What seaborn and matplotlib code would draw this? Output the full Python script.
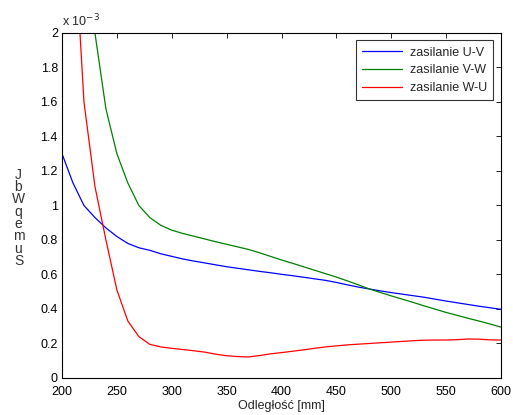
"""Field vs distance for three supply configurations (MATLAB-style figure)."""
import matplotlib
matplotlib.use("Agg")
import matplotlib.pyplot as plt
import numpy as np
import pandas as pd
import seaborn as sns

# distance [mm]
distance = list(range(200, 601, 10))

# values in units of 1e-3
uv = [1.30, 1.13, 1.00, 0.93, 0.87, 0.82, 0.78, 0.755, 0.74, 0.72,
      0.705, 0.69, 0.678, 0.667, 0.656, 0.645, 0.636, 0.627, 0.618, 0.61,
      0.601, 0.593, 0.584, 0.575, 0.566, 0.554, 0.54, 0.527, 0.516, 0.505,
      0.495, 0.486, 0.477, 0.468, 0.457, 0.446, 0.436, 0.426, 0.416, 0.407,
      0.398]
vw = [2.9, 2.55, 2.25, 2.0, 1.56, 1.30, 1.13, 1.00, 0.93, 0.885,
      0.857, 0.838, 0.822, 0.806, 0.79, 0.775, 0.76, 0.745, 0.726, 0.705,
      0.684, 0.665, 0.645, 0.625, 0.605, 0.585, 0.563, 0.54, 0.516, 0.496,
      0.476, 0.457, 0.438, 0.418, 0.399, 0.38, 0.363, 0.346, 0.33, 0.313,
      0.295]
wu = [3.6, 2.7, 1.6, 1.11, 0.80, 0.51, 0.33, 0.24, 0.195, 0.18,
      0.172, 0.165, 0.158, 0.15, 0.138, 0.129, 0.124, 0.122, 0.13, 0.14,
      0.147, 0.155, 0.163, 0.172, 0.18, 0.186, 0.192, 0.196, 0.2, 0.204,
      0.208, 0.212, 0.216, 0.219, 0.22, 0.22, 0.222, 0.226, 0.225, 0.221,
      0.22]

labels = ["zasilanie U-V", "zasilanie V-W", "zasilanie W-U"]
colors = ["#0000ff", "#008000", "#ff0000"]

x_ticks = list(range(200, 601, 50))
y_ticks = [0, 0.2, 0.4, 0.6, 0.8, 1.0, 1.2, 1.4, 1.6, 1.8, 2.0]
y_ticklabels = ["0", "0.2", "0.4", "0.6", "0.8", "1", "1.2", "1.4", "1.6", "1.8", "2"]

sns.set_style("white")
plt.rcParams["font.family"] = ["Liberation Sans", "DejaVu Sans"]
plt.rcParams.update({
    "xtick.direction": "in",
    "ytick.direction": "in",
    "xtick.top": True,
    "ytick.right": True,
    "xtick.major.size": 3.5,
    "ytick.major.size": 3.5,
    "xtick.major.width": 0.6,
    "ytick.major.width": 0.6,
    "axes.linewidth": 0.8,
    "axes.edgecolor": "black",
})

df = pd.concat([
    pd.DataFrame({"distance": distance, "value": vals, "series": lab})
    for vals, lab in zip([uv, vw, wu], labels)
])

fig = plt.figure(figsize=(5.13, 4.15), dpi=100)
ax = fig.add_axes([0.1209, 0.0892, 0.8557, 0.8313])

sns.lineplot(data=df, x="distance", y="value", hue="series",
             palette=dict(zip(labels, colors)), hue_order=labels,
             linewidth=0.9, ax=ax, sort=False)

ax.set_xlim(200, 600)
ax.set_ylim(0, 2.0)
ax.set_xticks(x_ticks)
ax.set_xticklabels([str(t) for t in x_ticks], fontsize=9)
ax.set_yticks(y_ticks)
ax.set_yticklabels(y_ticklabels, fontsize=9)
ax.tick_params(axis="x", colors="black", pad=5.5)
ax.tick_params(axis="y", colors="black", pad=3)
ax.set_xlabel("Odległość [mm]", fontsize=9, labelpad=2)
ax.set_ylabel("")

for spine in ax.spines.values():
    spine.set_visible(True)
    spine.set_color("black")

ax.text(0.0, 1.012, r"x 10$^{-3}$", transform=ax.transAxes,
        fontsize=9, ha="left", va="bottom")

# garbled vertical y label as rendered in the original
fig.text(0.036, 0.475, "J\nb\nW\nq\ne\nm\nu\nS", fontsize=10,
         ha="center", va="center", linespacing=0.85, color="#333333")

leg = ax.legend(loc="upper right", fontsize=9, frameon=True, fancybox=False,
                borderaxespad=0.6, handlelength=3.2, labelspacing=0.45,
                borderpad=0.5, handletextpad=0.6)
leg.get_frame().set_edgecolor("black")
leg.get_frame().set_linewidth(0.8)
leg.set_title(None)

fig.savefig("out.png", dpi=100, facecolor="white")
